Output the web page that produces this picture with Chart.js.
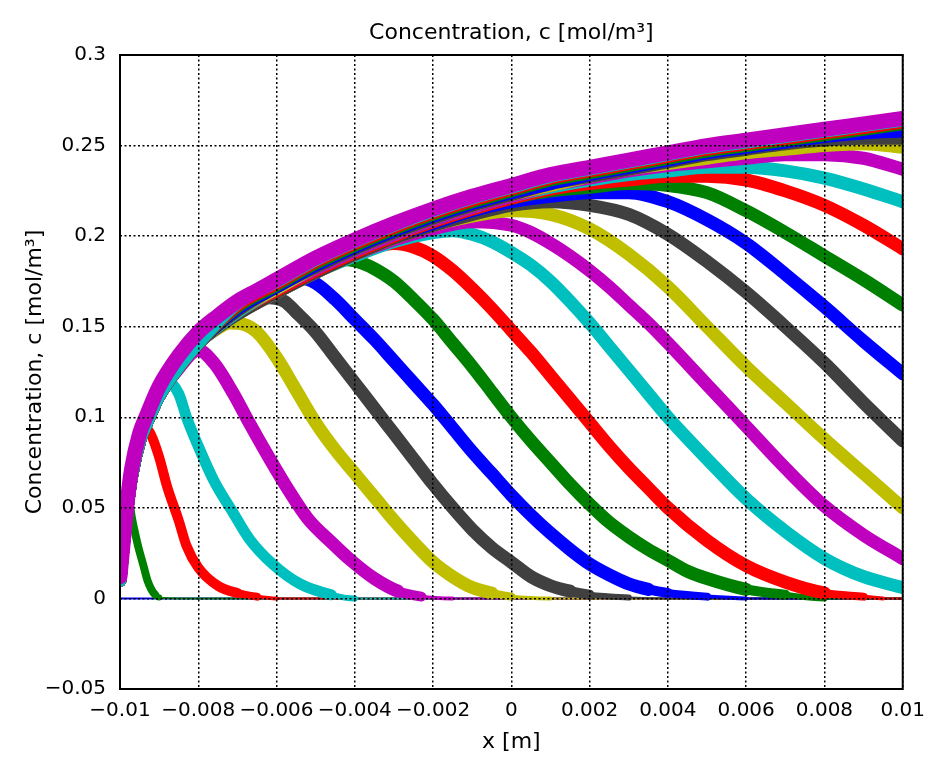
<!DOCTYPE html>
<html>
<head>
<meta charset="utf-8">
<title>Concentration profiles</title>
<script src="https://cdn.jsdelivr.net/npm/chart.js@4.4.1/dist/chart.umd.min.js"></script>
<style>
    html, body { margin: 0; padding: 0; background: #fff; }
    #wrap { width: 935px; height: 757px; position: relative; }
</style>
</head>
<body>
<div id="wrap"><canvas id="conc"></canvas></div>
<script>
// texts and tick labels
const chartTitle = 'Concentration, c [mol/m³]';
const yTitle = 'Concentration, c [mol/m³]';
const xTitle = 'x [m]';
const xTickLabels = ['−0.01', '−0.008', '−0.006', '−0.004', '−0.002', '0', '0.002', '0.004', '0.006', '0.008', '0.01'];
const yTickLabels = ['−0.05', '0', '0.05', '0.1', '0.15', '0.2', '0.25', '0.3'];

// profiles [x, c], one per saved time
const rise = [[-0.01, 0.01], [-0.0099, 0.033], [-0.0098, 0.053], [-0.0097, 0.068], [-0.0095, 0.087], [-0.0093, 0.098], [-0.009, 0.112], [-0.0085, 0.128], [-0.008, 0.141]];

const c00 = [[-0.01, 0], [0.01, 0]];
const c01 = [[-0.01, 0.01], [-0.0099, 0.035], [-0.0098, 0.055], [-0.00975, 0.052], [-0.0097, 0.045], [-0.00955, 0.03], [-0.0094, 0.018], [-0.0093, 0.01], [-0.0092, 0.005], [-0.0091, 0.002], [-0.009, 0.0005], [-0.0085, 0], [0.01, 0]];
const c02 = [[-0.01, 0.01], [-0.0099, 0.034], [-0.0098, 0.054], [-0.0097, 0.069], [-0.0095, 0.087], [-0.0093, 0.093], [-0.0092, 0.09], [-0.009, 0.078], [-0.0088, 0.062], [-0.0085, 0.043], [-0.0083, 0.029], [-0.008, 0.017], [-0.0075, 0.007], [-0.007, 0.003], [-0.0065, 0.001], [-0.006, 0], [0.01, 0]];
const c03 = [[-0.01, 0.01], [-0.0099, 0.033], [-0.0098, 0.053], [-0.0097, 0.068], [-0.0095, 0.087], [-0.0093, 0.098], [-0.009, 0.112], [-0.00875, 0.119], [-0.0085, 0.113], [-0.0083, 0.1], [-0.008, 0.084], [-0.0076, 0.065], [-0.0071, 0.047], [-0.0067, 0.033], [-0.0061, 0.019], [-0.0054, 0.008], [-0.0046, 0.002], [-0.004, 0], [0.01, 0]];
const c04 = [[-0.01, 0.01], [-0.0099, 0.033], [-0.0098, 0.053], [-0.0097, 0.068], [-0.0095, 0.087], [-0.0093, 0.098], [-0.009, 0.112], [-0.0085, 0.127], [-0.008, 0.137], [-0.0076, 0.13], [-0.0071, 0.113], [-0.0067, 0.097], [-0.0062, 0.078], [-0.0057, 0.06], [-0.0052, 0.044], [-0.0046, 0.031], [-0.0041, 0.021], [-0.0035, 0.011], [-0.0029, 0.004], [-0.0023, 0.001], [-0.0015, 0], [0.01, 0]];
const c05 = [...rise, [-0.0075, 0.149], [-0.0072, 0.152], [-0.0068, 0.151], [-0.0065, 0.147], [-0.006, 0.133], [-0.0055, 0.115], [-0.005, 0.097], [-0.0045, 0.082], [-0.004, 0.069], [-0.0035, 0.056], [-0.003, 0.043], [-0.0025, 0.031], [-0.002, 0.02], [-0.0015, 0.012], [-0.001, 0.006], [-0.0005, 0.003], [0, 0.001], [0.001, 0], [0.01, 0]];
const c06 = [...rise, [-0.0075, 0.152], [-0.007, 0.159], [-0.0065, 0.164], [-0.0062, 0.166], [-0.0058, 0.164], [-0.0055, 0.158], [-0.005, 0.147], [-0.0045, 0.133], [-0.004, 0.119], [-0.0035, 0.105], [-0.003, 0.091], [-0.0025, 0.077], [-0.002, 0.063], [-0.0015, 0.05], [-0.001, 0.038], [-0.0005, 0.028], [0, 0.02], [0.0005, 0.012], [0.001, 0.007], [0.0015, 0.004], [0.002, 0.002], [0.003, 0.0005], [0.004, 0], [0.01, 0]];
const c07 = [...rise, [-0.007, 0.158], [-0.006, 0.171], [-0.0054, 0.177], [-0.005, 0.174], [-0.0045, 0.165], [-0.004, 0.154], [-0.0035, 0.143], [-0.003, 0.131], [-0.0025, 0.119], [-0.002, 0.107], [-0.0015, 0.094], [-0.001, 0.081], [-0.0005, 0.069], [0, 0.057], [0.0005, 0.046], [0.001, 0.036], [0.0015, 0.027], [0.002, 0.019], [0.0025, 0.013], [0.003, 0.008], [0.0035, 0.005], [0.004, 0.003], [0.005, 0.001], [0.006, 0], [0.01, 0]];
const c08 = [...rise, [-0.007, 0.158], [-0.006, 0.171], [-0.005, 0.182], [-0.0045, 0.186], [-0.0042, 0.187], [-0.0038, 0.185], [-0.0035, 0.182], [-0.003, 0.175], [-0.0025, 0.165], [-0.002, 0.154], [-0.0015, 0.141], [-0.001, 0.128], [-0.0005, 0.114], [0, 0.1], [0.0005, 0.087], [0.001, 0.075], [0.0015, 0.063], [0.002, 0.052], [0.0025, 0.042], [0.003, 0.034], [0.0035, 0.027], [0.004, 0.021], [0.0045, 0.015], [0.005, 0.011], [0.006, 0.005], [0.007, 0.002], [0.008, 0], [0.01, 0]];
const c09 = [...rise, [-0.007, 0.158], [-0.006, 0.17], [-0.005, 0.181], [-0.004, 0.19], [-0.0035, 0.194], [-0.003, 0.196], [-0.0025, 0.194], [-0.002, 0.189], [-0.0015, 0.181], [-0.001, 0.171], [-0.0005, 0.16], [0, 0.148], [0.0005, 0.136], [0.001, 0.123], [0.0015, 0.11], [0.002, 0.097], [0.0025, 0.084], [0.003, 0.072], [0.0035, 0.061], [0.004, 0.05], [0.005, 0.032], [0.006, 0.018], [0.007, 0.009], [0.008, 0.003], [0.009, 0.001], [0.0095, 0], [0.01, 0]];
const c10 = [...rise, [-0.007, 0.157], [-0.006, 0.169], [-0.005, 0.18], [-0.004, 0.189], [-0.003, 0.197], [-0.002, 0.202], [-0.0015, 0.203], [-0.001, 0.201], [-0.0005, 0.197], [0, 0.191], [0.0005, 0.184], [0.001, 0.175], [0.0015, 0.164], [0.002, 0.152], [0.0025, 0.139], [0.003, 0.126], [0.0035, 0.113], [0.004, 0.1], [0.005, 0.077], [0.006, 0.055], [0.007, 0.037], [0.008, 0.022], [0.009, 0.012], [0.01, 0.006]];
const c11 = [...rise, [-0.007, 0.157], [-0.006, 0.169], [-0.005, 0.18], [-0.004, 0.19], [-0.003, 0.198], [-0.002, 0.204], [-0.001, 0.208], [0, 0.206], [0.0005, 0.202], [0.001, 0.196], [0.0015, 0.189], [0.002, 0.181], [0.0025, 0.172], [0.003, 0.162], [0.0035, 0.152], [0.004, 0.141], [0.005, 0.118], [0.006, 0.095], [0.007, 0.072], [0.008, 0.051], [0.009, 0.035], [0.01, 0.022]];
const c12 = [...rise, [-0.007, 0.157], [-0.006, 0.169], [-0.005, 0.18], [-0.004, 0.19], [-0.003, 0.199], [-0.002, 0.206], [-0.001, 0.211], [0, 0.214], [0.001, 0.212], [0.002, 0.204], [0.003, 0.19], [0.004, 0.172], [0.005, 0.15], [0.006, 0.128], [0.007, 0.108], [0.008, 0.088], [0.009, 0.069], [0.01, 0.05]];
const c13 = [...rise, [-0.007, 0.157], [-0.006, 0.169], [-0.005, 0.18], [-0.004, 0.19], [-0.003, 0.199], [-0.002, 0.206], [-0.001, 0.212], [0, 0.217], [0.001, 0.219], [0.002, 0.217], [0.003, 0.212], [0.004, 0.201], [0.005, 0.186], [0.006, 0.169], [0.007, 0.15], [0.008, 0.13], [0.009, 0.108], [0.01, 0.087]];
const c14 = [...rise, [-0.007, 0.158], [-0.006, 0.17], [-0.005, 0.181], [-0.004, 0.191], [-0.003, 0.2], [-0.002, 0.207], [-0.001, 0.214], [0, 0.219], [0.001, 0.222], [0.002, 0.224], [0.003, 0.224], [0.004, 0.219], [0.005, 0.209], [0.006, 0.196], [0.007, 0.179], [0.008, 0.161], [0.009, 0.142], [0.01, 0.124]];
const c15 = [...rise, [-0.007, 0.158], [-0.006, 0.17], [-0.005, 0.181], [-0.004, 0.191], [-0.003, 0.2], [-0.002, 0.208], [-0.001, 0.215], [0, 0.221], [0.001, 0.225], [0.002, 0.227], [0.003, 0.229], [0.004, 0.228], [0.005, 0.224], [0.006, 0.214], [0.007, 0.202], [0.008, 0.189], [0.009, 0.176], [0.01, 0.162]];
const c16 = [...rise, [-0.007, 0.158], [-0.006, 0.17], [-0.005, 0.181], [-0.004, 0.191], [-0.003, 0.2], [-0.002, 0.208], [-0.001, 0.215], [0, 0.221], [0.001, 0.226], [0.002, 0.229], [0.003, 0.231], [0.004, 0.233], [0.005, 0.233], [0.006, 0.231], [0.007, 0.225], [0.008, 0.217], [0.009, 0.206], [0.01, 0.193]];
const c17 = [...rise, [-0.007, 0.158], [-0.006, 0.171], [-0.005, 0.182], [-0.004, 0.192], [-0.003, 0.201], [-0.002, 0.209], [-0.001, 0.216], [0, 0.222], [0.001, 0.227], [0.002, 0.231], [0.003, 0.234], [0.004, 0.236], [0.005, 0.238], [0.006, 0.238], [0.007, 0.236], [0.008, 0.232], [0.009, 0.226], [0.01, 0.219]];
const c18 = [...rise, [-0.007, 0.159], [-0.006, 0.171], [-0.005, 0.182], [-0.004, 0.192], [-0.003, 0.201], [-0.002, 0.209], [-0.001, 0.216], [0, 0.222], [0.001, 0.228], [0.002, 0.232], [0.003, 0.236], [0.004, 0.239], [0.005, 0.241], [0.006, 0.243], [0.007, 0.245], [0.008, 0.245], [0.009, 0.243], [0.01, 0.237]];
const c19 = [...rise, [-0.007, 0.159], [-0.006, 0.171], [-0.005, 0.183], [-0.004, 0.193], [-0.003, 0.202], [-0.002, 0.21], [-0.001, 0.217], [0, 0.223], [0.001, 0.228], [0.002, 0.233], [0.003, 0.237], [0.004, 0.24], [0.005, 0.243], [0.006, 0.246], [0.007, 0.248], [0.008, 0.25], [0.009, 0.251], [0.01, 0.249]];
const c20 = [...rise, [-0.007, 0.159], [-0.006, 0.172], [-0.005, 0.183], [-0.004, 0.193], [-0.003, 0.202], [-0.002, 0.21], [-0.001, 0.217], [0, 0.223], [0.001, 0.229], [0.002, 0.233], [0.003, 0.237], [0.004, 0.241], [0.005, 0.245], [0.006, 0.248], [0.007, 0.251], [0.008, 0.253], [0.009, 0.254], [0.01, 0.254]];
const c21 = [...rise, [-0.007, 0.16], [-0.006, 0.172], [-0.005, 0.184], [-0.004, 0.194], [-0.003, 0.203], [-0.002, 0.211], [-0.001, 0.218], [0, 0.224], [0.001, 0.229], [0.002, 0.234], [0.003, 0.238], [0.004, 0.242], [0.005, 0.246], [0.006, 0.249], [0.007, 0.252], [0.008, 0.255], [0.009, 0.257], [0.01, 0.258]];
const c22 = [...rise, [-0.007, 0.161], [-0.006, 0.173], [-0.005, 0.185], [-0.004, 0.195], [-0.003, 0.204], [-0.002, 0.212], [-0.001, 0.219], [0, 0.225], [0.001, 0.231], [0.002, 0.235], [0.003, 0.239], [0.004, 0.243], [0.005, 0.247], [0.006, 0.25], [0.007, 0.253], [0.008, 0.256], [0.009, 0.259], [0.01, 0.262]];
const c23 = [...rise, [-0.007, 0.162], [-0.006, 0.174], [-0.005, 0.186], [-0.004, 0.196], [-0.003, 0.205], [-0.002, 0.213], [-0.001, 0.22], [0, 0.226], [0.001, 0.232], [0.002, 0.236], [0.003, 0.24], [0.004, 0.244], [0.005, 0.248], [0.006, 0.251], [0.007, 0.254], [0.008, 0.257], [0.009, 0.26], [0.01, 0.263]];
const c24 = [...rise, [-0.007, 0.163], [-0.006, 0.175], [-0.005, 0.187], [-0.004, 0.197], [-0.003, 0.206], [-0.002, 0.214], [-0.001, 0.221], [0, 0.227], [0.001, 0.233], [0.002, 0.237], [0.003, 0.241], [0.004, 0.245], [0.005, 0.249], [0.006, 0.252], [0.007, 0.255], [0.008, 0.258], [0.009, 0.261], [0.01, 0.264]];
const c25 = [[-0.01, 0.012], [-0.0099, 0.035], [-0.0098, 0.056], [-0.0097, 0.072], [-0.0095, 0.091], [-0.0093, 0.102], [-0.009, 0.117], [-0.0085, 0.134], [-0.008, 0.147], [-0.0075, 0.156], [-0.007, 0.164], [-0.0065, 0.17], [-0.006, 0.176], [-0.005, 0.188], [-0.004, 0.198], [-0.003, 0.207], [-0.002, 0.215], [-0.001, 0.222], [0, 0.228], [0.001, 0.234], [0.002, 0.238], [0.003, 0.242], [0.004, 0.246], [0.005, 0.25], [0.006, 0.253], [0.007, 0.256], [0.008, 0.259], [0.009, 0.262], [0.01, 0.265]];

const curves = [c00, c01, c02, c03, c04, c05, c06, c07, c08, c09, c10, c11, c12, c13, c14, c15, c16, c17, c18, c19, c20, c21, c22, c23, c24, c25];
const palette = ['#0000ff', '#008000', '#ff0000', '#00bfbf', '#bf00bf', '#bfbf00', '#404040'];

// band width of each profile; the first ones are narrower, the last one wider
function baseWidth(i) {
    if (i === 0) return 2;
    if (i === 1) return 8;
    if (i === 2) return 10;
    if (i === 3) return 11;
    if (i === curves.length - 1) return 15;
    return 13;
}

// bands get thin where the profile has died out
function segWidth(base) {
    return function (ctx) {
        const m = Math.max(ctx.p0.parsed.y, ctx.p1.parsed.y);
        if (m >= 0.006) return base;
        if (m >= 0.004) return Math.min(base, 10);
        if (m >= 0.0025) return Math.min(base, 8);
        if (m >= 0.0015) return 6;
        if (m >= 0.0008) return 4;
        return 2;
    };
}

const datasets = curves.map(function (pts, i) {
    const w = baseWidth(i);
    return {
        data: pts,
        borderColor: palette[i % palette.length],
        borderWidth: w,
        pointRadius: 0,
        pointHoverRadius: 0,
        cubicInterpolationMode: 'monotone',
        borderCapStyle: 'round',
        borderJoinStyle: 'round',
        fill: false,
        clip: 0,
        order: curves.length - i,
        segment: { borderWidth: segWidth(w) }
    };
});

const framePlugin = {
    id: 'frame',
    afterDraw(chart) {
        const { ctx, chartArea } = chart;
        ctx.save();
        ctx.strokeStyle = '#000';
        ctx.lineWidth = 2;
        ctx.strokeRect(chartArea.left, chartArea.top, chartArea.right - chartArea.left, chartArea.bottom - chartArea.top);
        ctx.fillStyle = '#000';
        ctx.font = '22px "DejaVu Sans"';
        ctx.textAlign = 'center';
        ctx.textBaseline = 'middle';
        ctx.fillText(chartTitle, (chartArea.left + chartArea.right) / 2, 33);
        ctx.restore();
    }
};

const tickFont = { family: 'DejaVu Sans', size: 20 };
const titleFont = { family: 'DejaVu Sans', size: 22 };

new Chart(document.getElementById('conc'), {
    type: 'line',
    data: { datasets: datasets },
    options: {
        responsive: true,
        maintainAspectRatio: false,
        animation: false,
        events: [],
        layout: { padding: { top: 55, right: 31, left: 0, bottom: 0 } },
        plugins: {
            legend: { display: false },
            tooltip: { enabled: false }
        },
        scales: {
            x: {
                type: 'linear',
                min: -0.01,
                max: 0.01,
                afterFit(scale) { scale.height = 68; },
                grid: { color: '#000', lineWidth: 1.5, drawTicks: false, z: 1 },
                border: { display: false, dash: [2, 2.5] },
                ticks: {
                    stepSize: 0.002,
                    autoSkip: false,
                    maxRotation: 0,
                    padding: 10,
                    color: '#000',
                    font: tickFont,
                    callback: (v, i) => xTickLabels[i]
                },
                title: { display: true, text: xTitle, color: '#000', font: titleFont, padding: { top: 0, bottom: 2 } }
            },
            y: {
                type: 'linear',
                min: -0.05,
                max: 0.3,
                afterFit(scale) { scale.width = 120; },
                grid: { color: '#000', lineWidth: 1.5, drawTicks: false, z: 1 },
                border: { display: false, dash: [2, 2.5] },
                ticks: {
                    stepSize: 0.05,
                    padding: 14,
                    color: '#000',
                    font: tickFont,
                    callback: (v, i) => yTickLabels[i]
                },
                title: { display: true, text: yTitle, color: '#000', font: titleFont, padding: { top: 22, bottom: 0 } }
            }
        }
    },
    plugins: [framePlugin]
});
</script>
</body>
</html>
